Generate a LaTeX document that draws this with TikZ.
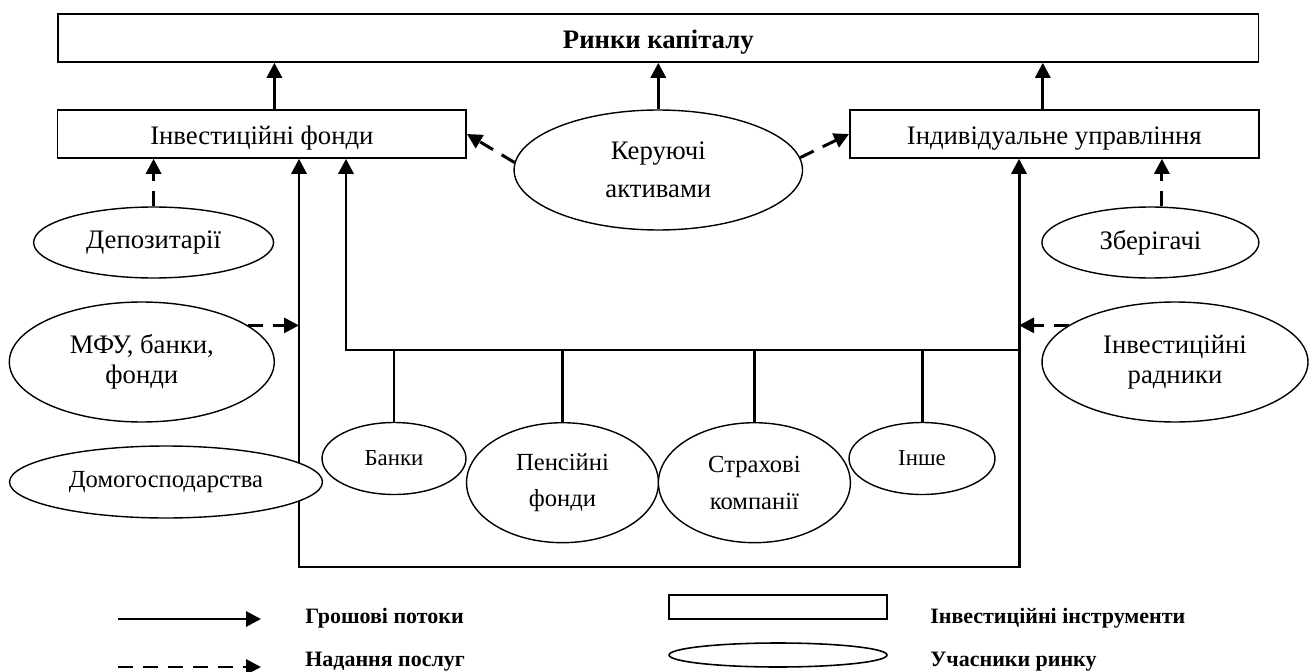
\documentclass[tikz,border=0pt]{standalone}
\usepackage{fontspec}
\setmainfont{Liberation Serif}
\usepackage{xcolor}
\usepackage{tikz}
\usetikzlibrary{positioning,shapes.geometric,arrows.meta}

\begin{document}
\begin{tikzpicture}[x=0.02cm,y=-0.02cm,
  box/.style={draw, line width=0.9pt, rectangle, minimum height=0.96cm, inner sep=0pt,
    text height=5mm, text depth=0.8mm, font=\fontsize{15.2}{17}\selectfont},
  actor/.style={draw, fill=white, ellipse, line width=0.8pt, inner sep=0pt, align=center,
    font=\fontsize{15.2}{17}\selectfont},
  small/.style={font=\fontsize{14}{17}\selectfont},
  tiny/.style={font=\fontsize{13}{16}\selectfont},
  flow/.style={line width=1.7pt, -{Triangle[length=3mm,width=3mm]}},
  serv/.style={flow, dash pattern=on 3mm off 2mm},
  legtext/.style={anchor=west, inner sep=0pt, font=\fontsize{12.5}{15}\selectfont\bfseries}]
\useasboundingbox (0,0) rectangle (1311,672);

\node[box, minimum width=24.02cm, font=\fontsize{15.2}{18}\selectfont\bfseries] (capital) at (658.3,38) {Ринки капіталу};
\node[box, minimum width=8.17cm] (ifunds) at (261.9,134) {Інвестиційні фонди};
\node[box, minimum width=8.18cm] (indiv) at (1054.3,134) {Індивідуальне управління};

\node[actor, minimum width=5.77cm, minimum height=2.4cm] (keru) at (658.3,170) {Керуючі\\[4.5pt]активами};
\node[actor, minimum width=4.8cm, minimum height=1.42cm] (depo) at (153.6,242.5) {Депозитарії};
\node[actor, minimum width=4.34cm, minimum height=1.42cm] (zber) at (1150.4,242.5) {Зберігачі};
\node[actor, minimum width=5.3cm, minimum height=2.4cm] (mfu) at (141.8,362) {МФУ, банки,\\фонди};
\node[actor, minimum width=5.32cm, minimum height=2.4cm] (radn) at (1175,362) {Інвестиційні\\радники};
\node[actor, tiny, minimum width=2.88cm, minimum height=1.44cm] (banky) at (394,458.5) {Банки};
\node[actor, small, minimum width=3.84cm, minimum height=2.4cm] (pens) at (562.5,482.7) {Пенсійні\\[4pt]фонди};
\node[actor, small, minimum width=3.84cm, minimum height=2.4cm] (strakh) at (754.4,482.7) {Страхові\\[4pt]компанії};
\node[actor, tiny, minimum width=2.92cm, minimum height=1.44cm] (inshe) at (922,458.5) {Інше};

\coordinate (bl) at (299,567);
\coordinate (br) at (1019,567);
\coordinate (busl) at (346,350);
\coordinate (busr) at (1019,350);

\draw[flow] ([xshift=2.5mm]ifunds.north) -- ([xshift=2.5mm]ifunds.north |- capital.south);
\draw[flow] (keru.north) -- (capital.south);
\draw[flow] ([xshift=-2.3mm]indiv.north) -- ([xshift=-2.3mm]indiv.north |- capital.south);

\draw[serv] (keru.177) -- (ifunds.east);
\draw[serv] (keru.5) -- (indiv.west);
\draw[serv] (depo.north) -- (depo.north |- ifunds.south);
\draw[serv] ([xshift=2.3mm]zber.north) -- ([xshift=2.3mm]zber.north |- indiv.south);

\draw[{Triangle[length=3mm,width=3mm]}-{Triangle[length=3mm,width=3mm]}, line width=1.7pt]
  (bl |- ifunds.south) -- (bl) -- (br) -- (br |- indiv.south);
\draw[flow] (busr) -- (busl) -- (busl |- ifunds.south);
\foreach \n in {banky,pens,strakh,inshe}
  \draw[line width=1.7pt] (\n.north) -- (\n.north |- busl);

\draw[serv] (mfu.19) -- (mfu.19 -| bl);
\draw[serv] (radn.161) -- (radn.161 -| br);

\node[actor, small, minimum width=6.26cm, minimum height=1.44cm] (house) at (166,482) {Домогосподарства};

\coordinate (lga) at (118,619);
\coordinate (lgb) at (261,619);
\coordinate (lgc) at (118,667);
\coordinate (lgd) at (261,667);
\draw[flow] (lga) -- (lgb);
\draw[serv] (lgc) -- (lgd);
\node[legtext] (lgflow) at (305,618) {Грошові потоки};
\node[legtext] (lgserv) at (305,662) {Надання послуг};
\node[draw, line width=0.9pt, minimum width=4.36cm, minimum height=0.48cm] (lgbox) at (778,607) {};
\node[draw, ellipse, line width=0.9pt, minimum width=4.36cm, minimum height=0.48cm] (lgell) at (778,655) {};
\node[legtext] (lginstr) at (930,618) {Інвестиційні інструменти};
\node[legtext] (lgpart) at (930,662) {Учасники ринку};
\end{tikzpicture}
\end{document}
